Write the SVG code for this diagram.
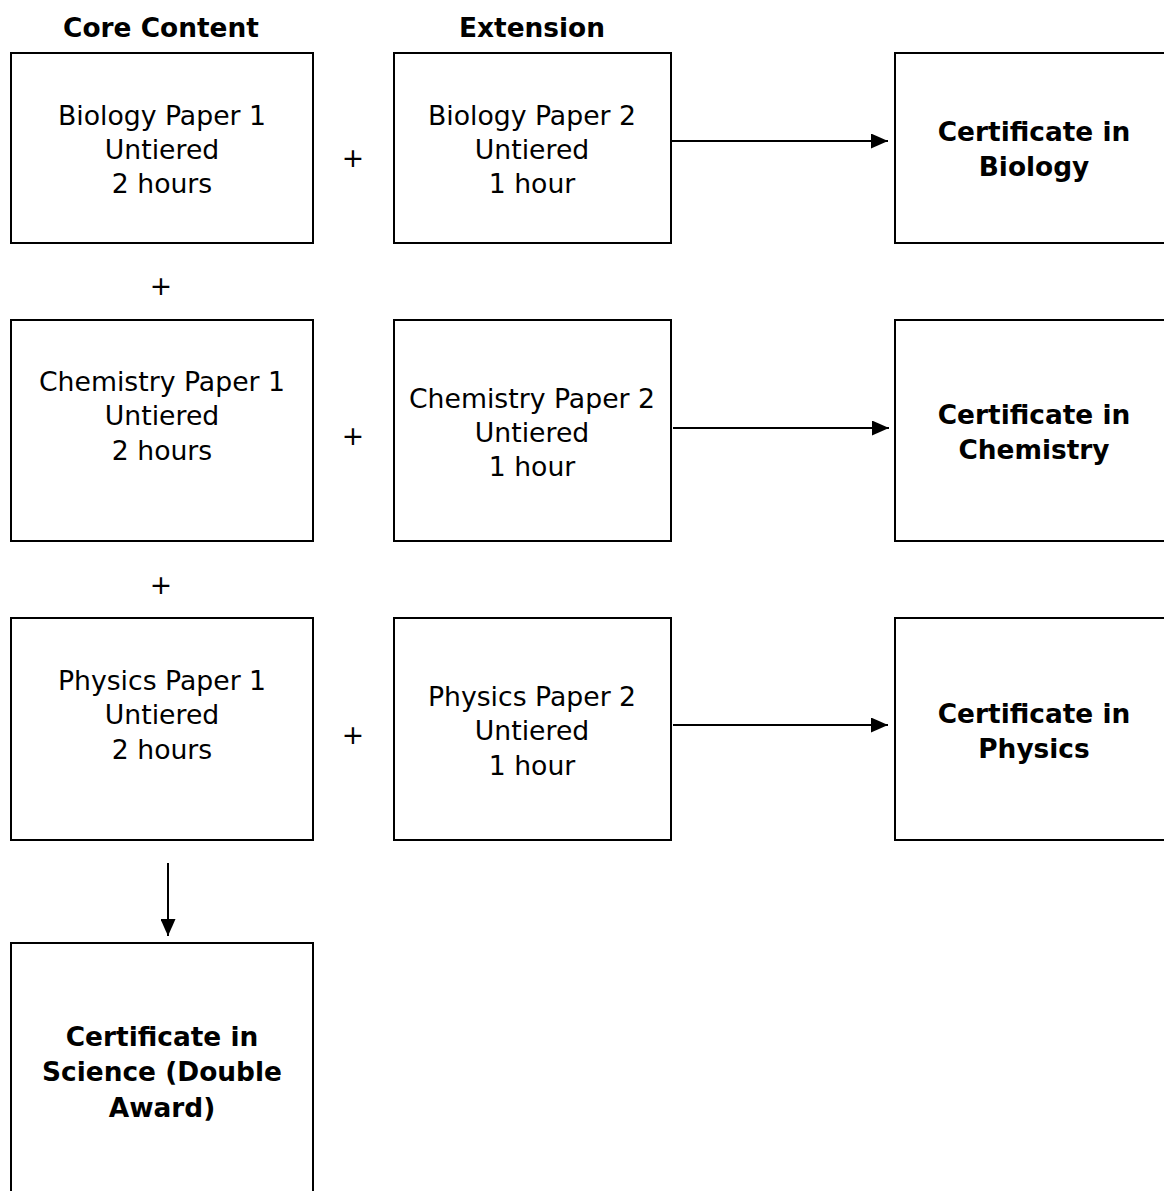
<svg xmlns="http://www.w3.org/2000/svg" width="1164" height="1191" viewBox="0 0 1164 1191">
  <style>
    .box { fill: #ffffff; stroke: #000000; stroke-width: 2; }
    .t { font-family: "DejaVu Sans", Verdana, sans-serif; font-size: 26.7px; fill: #000; text-anchor: middle; }
    .b { font-weight: bold; font-size: 26.4px; }
    .link { stroke: #000; stroke-width: 2; fill: none; }
  </style>
  <defs>
    <marker id="arrow" markerUnits="userSpaceOnUse" markerWidth="17" markerHeight="15" refX="17" refY="7.5" orient="auto">
      <path d="M0,0 L17,7.5 L0,15 Z" fill="#000"/>
    </marker>
  </defs>
  <rect width="1164" height="1191" fill="#ffffff"/>

  <!-- column headings -->
  <g id="headings">
    <text class="t b" x="161" y="37">Core Content</text>
    <text class="t b" x="532" y="37">Extension</text>
  </g>

  <!-- Biology row -->
  <g id="bio1">
    <rect class="box" x="11" y="53" width="302" height="190"/>
    <text class="t" x="162" y="125">Biology Paper 1</text>
    <text class="t" x="162" y="159">Untiered</text>
    <text class="t" x="162" y="193">2 hours</text>
  </g>
  <g id="bio2">
    <rect class="box" x="394" y="53" width="277" height="190"/>
    <text class="t" x="532" y="125">Biology Paper 2</text>
    <text class="t" x="532" y="159">Untiered</text>
    <text class="t" x="532" y="193">1 hour</text>
  </g>
  <g id="certBio">
    <rect class="box" x="895" y="53" width="290" height="190"/>
    <text class="t b" x="1034" y="141">Certificate in</text>
    <text class="t b" x="1034" y="176">Biology</text>
  </g>

  <!-- Chemistry row -->
  <g id="chem1">
    <rect class="box" x="11" y="320" width="302" height="221"/>
    <text class="t" x="162" y="391">Chemistry Paper 1</text>
    <text class="t" x="162" y="425">Untiered</text>
    <text class="t" x="162" y="460">2 hours</text>
  </g>
  <g id="chem2">
    <rect class="box" x="394" y="320" width="277" height="221"/>
    <text class="t" x="532" y="408">Chemistry Paper 2</text>
    <text class="t" x="532" y="442">Untiered</text>
    <text class="t" x="532" y="476">1 hour</text>
  </g>
  <g id="certChem">
    <rect class="box" x="895" y="320" width="290" height="221"/>
    <text class="t b" x="1034" y="424">Certificate in</text>
    <text class="t b" x="1034" y="459">Chemistry</text>
  </g>

  <!-- Physics row -->
  <g id="phys1">
    <rect class="box" x="11" y="618" width="302" height="222"/>
    <text class="t" x="162" y="690">Physics Paper 1</text>
    <text class="t" x="162" y="724">Untiered</text>
    <text class="t" x="162" y="759">2 hours</text>
  </g>
  <g id="phys2">
    <rect class="box" x="394" y="618" width="277" height="222"/>
    <text class="t" x="532" y="706">Physics Paper 2</text>
    <text class="t" x="532" y="740">Untiered</text>
    <text class="t" x="532" y="775">1 hour</text>
  </g>
  <g id="certPhys">
    <rect class="box" x="895" y="618" width="290" height="222"/>
    <text class="t b" x="1034" y="723">Certificate in</text>
    <text class="t b" x="1034" y="758">Physics</text>
  </g>

  <!-- Double award -->
  <g id="certDouble">
    <rect class="box" x="11" y="943" width="302" height="270"/>
    <text class="t b" x="162" y="1046">Certificate in</text>
    <text class="t b" x="162" y="1081">Science (Double</text>
    <text class="t b" x="162" y="1117">Award)</text>
  </g>

  <!-- plus signs -->
  <g id="plus">
    <text class="t" x="353" y="167">+</text>
    <text class="t" x="353" y="445">+</text>
    <text class="t" x="353" y="744">+</text>
    <text class="t" x="161" y="295">+</text>
    <text class="t" x="161" y="594">+</text>
  </g>

  <!-- connectors -->
  <g id="connectors">
    <line class="link" x1="671" y1="141" x2="888" y2="141" marker-end="url(#arrow)"/>
    <line class="link" x1="673" y1="428" x2="889" y2="428" marker-end="url(#arrow)"/>
    <line class="link" x1="673" y1="725" x2="888" y2="725" marker-end="url(#arrow)"/>
    <line class="link" x1="168" y1="863" x2="168" y2="936" marker-end="url(#arrow)"/>
  </g>
</svg>
